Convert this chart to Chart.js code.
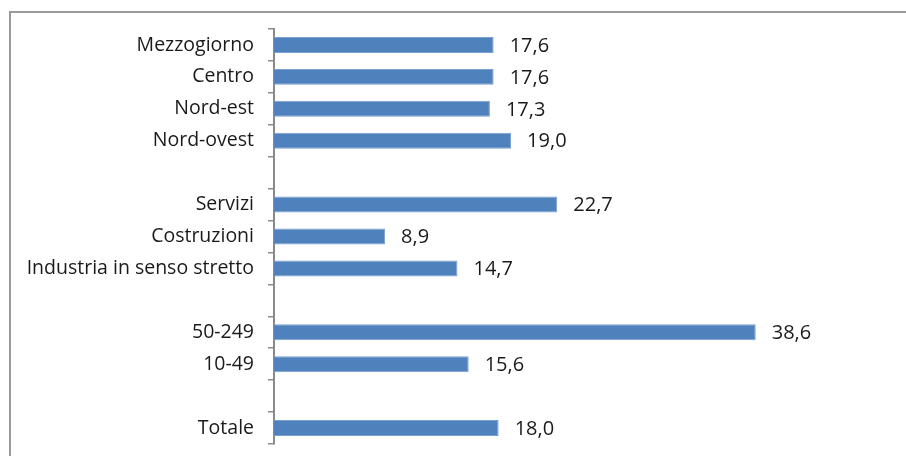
<!DOCTYPE html>
<html>
<head>
<meta charset="utf-8">
<script src="https://cdn.jsdelivr.net/npm/chart.js@4/dist/chart.umd.min.js"></script>
<style>
  html, body { margin: 0; padding: 0; background: #fff; }
  canvas { display: block; }
</style>
</head>
<body>
<canvas id="barCanvas" width="906" height="456"></canvas>
<script>
// empty strings are the gaps between groups
const categories = ["Mezzogiorno", "Centro", "Nord-est", "Nord-ovest", "",
    "Servizi", "Costruzioni", "Industria in senso stretto", "",
    "50-249", "10-49", "", "Totale"];
const values = [17.6, 17.6, 17.3, 19.0, null,
    22.7, 8.9, 14.7, null,
    38.6, 15.6, null, 18.0];

const FONT = "'Open Sans', sans-serif";

const frame = {
    id: "frame",
    beforeDraw(chart) {
        const ctx = chart.ctx;
        ctx.save();
        ctx.strokeStyle = "#9a9a9a";
        ctx.lineWidth = 2;
        ctx.strokeRect(10, 12, 920, 470);
        ctx.restore();
    }
};

const valueLabels = {
    id: "valueLabels",
    afterDatasetsDraw(chart) {
        const ctx = chart.ctx;
        const meta = chart.getDatasetMeta(0);
        ctx.save();
        ctx.font = "20px " + FONT;
        ctx.fillStyle = "#1a1a1a";
        ctx.textBaseline = "middle";
        ctx.textAlign = "left";
        meta.data.forEach((bar, i) => {
            const v = values[i];
            if (v === null) return;
            ctx.fillText(v.toFixed(1).replace(".", ","), bar.x + 16, bar.y + 1);
        });
        ctx.restore();
    }
};

const barChart = new Chart(document.getElementById("barCanvas"), {
    type: "bar",
    data: {
        labels: categories,
        datasets: [{
            data: values,
            backgroundColor: "#4f81bd",
            borderColor: "#7aa0d0",
            borderWidth: 1,
            categoryPercentage: 1,
            barPercentage: 0.5
        }]
    },
    options: {
        indexAxis: "y",
        responsive: false,
        animation: false,
        layout: { padding: { top: 29, bottom: 12, left: 0, right: 8 } },
        plugins: {
            legend: { display: false },
            tooltip: { enabled: false }
        },
        scales: {
            x: {
                display: false,
                min: 0,
                max: 50
            },
            y: {
                afterFit(scale) {
                    scale.width = 274;
                    scale.paddingTop = 0;
                    scale.paddingBottom = 0;
                },
                grid: {
                    drawOnChartArea: false,
                    offset: true,
                    tickLength: 6,
                    color: "#8a8a8a",
                    lineWidth: 1.5
                },
                border: { color: "#8a8a8a", width: 2 },
                ticks: {
                    color: "#1a1a1a",
                    padding: 14,
                    font: { family: FONT, size: 19.5 }
                }
            }
        }
    },
    plugins: [frame, valueLabels]
});
</script>
</body>
</html>
